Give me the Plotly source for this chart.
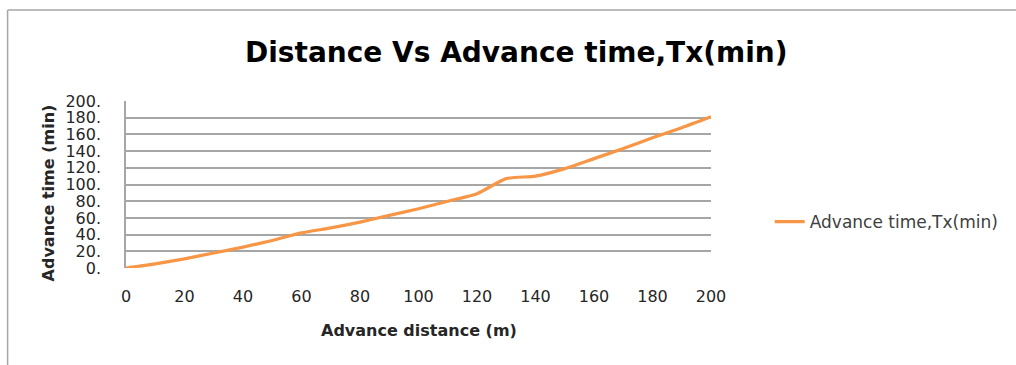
import plotly.graph_objects as go

distance = [0, 10, 20, 30, 40, 50, 60, 70, 80, 90, 100, 110, 120, 130, 140, 150, 160, 170, 180, 190, 200]
advance_time = [0, 5, 11, 18, 25, 33, 42, 48, 55, 63, 71, 80, 89, 107, 110, 119, 131, 143, 156, 168, 181]
y_ticks = [0, 20, 40, 60, 80, 100, 120, 140, 160, 180, 200]
y_tick_labels = [f"{v}." for v in y_ticks]
x_ticks = [0, 20, 40, 60, 80, 100, 120, 140, 160, 180, 200]

FONT = "DejaVu Sans"
L, R, T, B = 126, 302, 101, 97
W, H = 1016, 365
pw, ph = W - L - R, H - T - B

def px(x):
    return (x - L) / pw

def py(y):
    return (H - B - y) / ph

fig = go.Figure()
fig.add_trace(go.Scatter(
    x=distance, y=advance_time, mode="lines",
    line=dict(color="#f79646", width=3.2, shape="spline", smoothing=0.6),
    name="Advance time,Tx(min)",
))

fig.update_layout(
    width=W, height=H,
    margin=dict(l=L, r=R, t=T, b=B),
    paper_bgcolor="white", plot_bgcolor="white",
    font=dict(family=FONT, color="#262626"),
    showlegend=True,
    legend=dict(x=px(773), y=py(222), xanchor="left", yanchor="middle",
                font=dict(size=17, family=FONT, color="#404040"),
                bgcolor="rgba(0,0,0,0)"),
    xaxis=dict(range=[0, 200], tickvals=x_ticks, showgrid=False, zeroline=False,
               showline=False, ticks="", tickfont=dict(size=16, color="#262626"),
               ticklabelstandoff=17, fixedrange=True),
    yaxis=dict(range=[0, 200], tickvals=y_ticks, ticktext=y_tick_labels,
               showgrid=True, gridcolor="#a6a6a6", gridwidth=1.5, zeroline=False,
               showline=True, linecolor="#a6a6a6", linewidth=1.5, ticks="",
               tickfont=dict(size=16, color="#262626"),
               ticklabelstandoff=20, fixedrange=True),
    annotations=[
        dict(text="<b>Distance Vs Advance time,Tx(min)</b>", x=px(518), y=py(53),
             xref="paper", yref="paper", showarrow=False,
             xanchor="center", yanchor="middle",
             font=dict(size=28, family=FONT, color="#000000")),
        dict(text="<b>Advance distance (m)</b>", x=px(420), y=py(330),
             xref="paper", yref="paper", showarrow=False,
             xanchor="center", yanchor="middle",
             font=dict(size=16, family=FONT, color="#262626")),
        dict(text="<b>Advance time (min)</b>", x=px(48), y=py(193),
             xref="paper", yref="paper", showarrow=False, textangle=-90,
             xanchor="center", yanchor="middle",
             font=dict(size=16, family=FONT, color="#262626")),
    ],
    shapes=[
        dict(type="line", xref="paper", yref="paper", x0=px(7), x1=px(1030),
             y0=py(10), y1=py(10), line=dict(color="#a6a6a6", width=1.5)),
        dict(type="line", xref="paper", yref="paper", x0=px(7), x1=px(7),
             y0=py(10), y1=py(380), line=dict(color="#a6a6a6", width=1.5)),
    ],
)

fig.write_html("out.html")
